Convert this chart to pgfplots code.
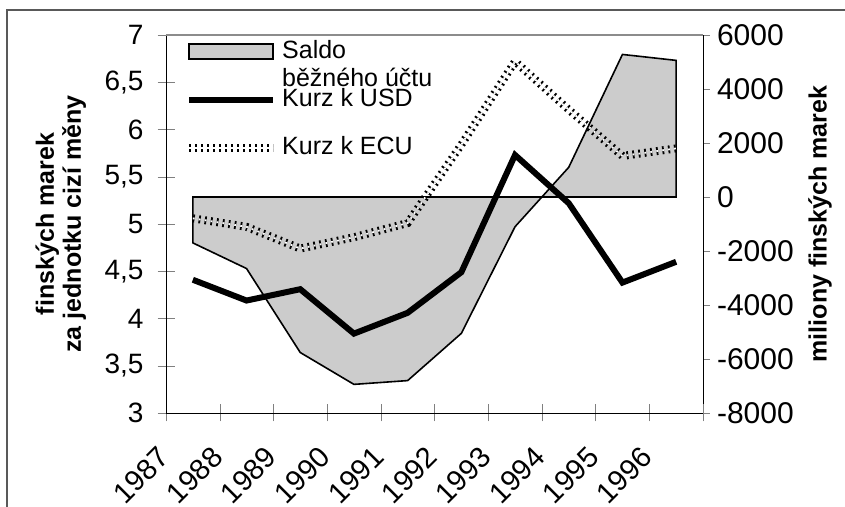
\documentclass[border=0pt]{standalone}
\usepackage{fontspec}
\setmainfont{Liberation Sans}
\usepackage{pgfplots}
\pgfplotsset{compat=1.18}

\definecolor{saldofill}{RGB}{204,204,204}

\pgfplotstableread{
x usd  ecu
0 4.41 5.06
1 4.19 4.97
2 4.31 4.74
3 3.84 4.86
4 4.06 5.01
5 4.49 5.84
6 5.73 6.72
7 5.22 6.21
8 4.38 5.72
9 4.60 5.80
}\kurzy

\begin{document}
\begin{tikzpicture}
\useasboundingbox (0,0) rectangle (422.5pt,253.5pt);
\draw[line width=1pt, black!65] (3.5pt,0pt) -- (3.5pt,248.5pt) -- (422.5pt,248.5pt);

% pravá osa: saldo běžného účtu
\begin{axis}[
    at={(83pt,47pt)}, anchor=south west,
    scale only axis, width=268.5pt, height=189pt,
    xmin=-0.5, xmax=9.5,
    ymin=-8000, ymax=6000,
    ytick={-8000,-6000,...,6000},
    axis y line*=right, axis x line=none,
    tick align=outside, major tick length=3.5pt,
    /pgf/number format/assume math mode=true,
    /pgf/number format/1000 sep={},
    tick label style={font=\fontsize{15}{17}\selectfont},
    ylabel={miliony finských marek},
    label style={font=\bfseries\fontsize{12.5}{13.5}\selectfont},
    ylabel style={at={(axis description cs:1.218,0.5)}, anchor=center},
]
\addplot[fill=saldofill, draw=black, line width=0.8pt] coordinates {
    (0,0) (0,-1700) (1,-2650) (2,-5760) (3,-6940) (4,-6800)
    (5,-5050) (6,-1100) (7,1100) (8,5280) (9,5060) (9,0)
} -- cycle;
\end{axis}

% levá osa: kurzy
\begin{axis}[
    at={(83pt,47pt)}, anchor=south west,
    scale only axis, width=268.5pt, height=189pt,
    xmin=-0.5, xmax=9.5,
    ymin=3, ymax=7,
    ytick={3,3.5,...,7},
    axis y line*=left, axis x line*=bottom,
    tick align=center, major tick length=8.5pt, minor tick length=8.5pt,
    xtick={0,...,9},
    xticklabels={1987,1988,1989,1990,1991,1992,1993,1994,1995,1996},
    minor xtick={-0.5,0.5,...,9.5},
    major x tick style={draw=none},
    /pgf/number format/assume math mode=true,
    /pgf/number format/use comma,
    tick label style={font=\fontsize{14}{16}\selectfont},
    yticklabel style={xshift=-3.5pt},
    xticklabel style={font=\fontsize{14.5}{16}\selectfont, xshift=-12pt, yshift=-13pt, rotate=45, anchor=east},
    ylabel={finských marek\\za jednotku cizí měny},
    label style={font=\bfseries\fontsize{12.5}{13.5}\selectfont},
    ylabel style={align=center, at={(axis description cs:-0.196,0.5)}, anchor=center},
    legend style={draw=none, fill=none, font=\fontsize{12.5}{14}\selectfont, inner sep=0pt,
        at={(axis description cs:0.035,0.99)}, anchor=north west,
        row sep=11.5pt, column sep=2.5pt,
        nodes={inner sep=0pt, text height=9.5pt, text depth=3pt}},
    legend cell align=left,
]
\addlegendimage{legend image code/.code={
    \draw[fill=saldofill, draw=black, line width=1pt] (0pt,-3.75pt) rectangle (42pt,3.75pt);}}
\addlegendentry{\rlap{\smash{\raisebox{-14pt}{běžného účtu}}}Saldo}
\addplot[black, line width=3pt,
    legend image code/.code={\draw[black, line width=3pt] (0pt,0pt) -- (42pt,0pt);}]
    table[x=x, y=usd] {\kurzy};
\addlegendentry{Kurz k USD}
\addplot[white, line width=0.9pt, dash pattern=on 0.9pt off 2.1pt,
    preaction={draw=black, line width=4pt},
    legend image code/.code={\draw[white, line width=0.9pt, dash pattern=on 0.9pt off 2.1pt,
        preaction={draw=black, line width=4pt}] (0pt,0pt) -- (42pt,0pt);}]
    table[x=x, y=ecu] {\kurzy};
\addlegendentry{Kurz k ECU}
\draw[black!45, line width=1pt] (rel axis cs:0,1) -- (rel axis cs:1,1);
\end{axis}
\end{tikzpicture}
\end{document}
